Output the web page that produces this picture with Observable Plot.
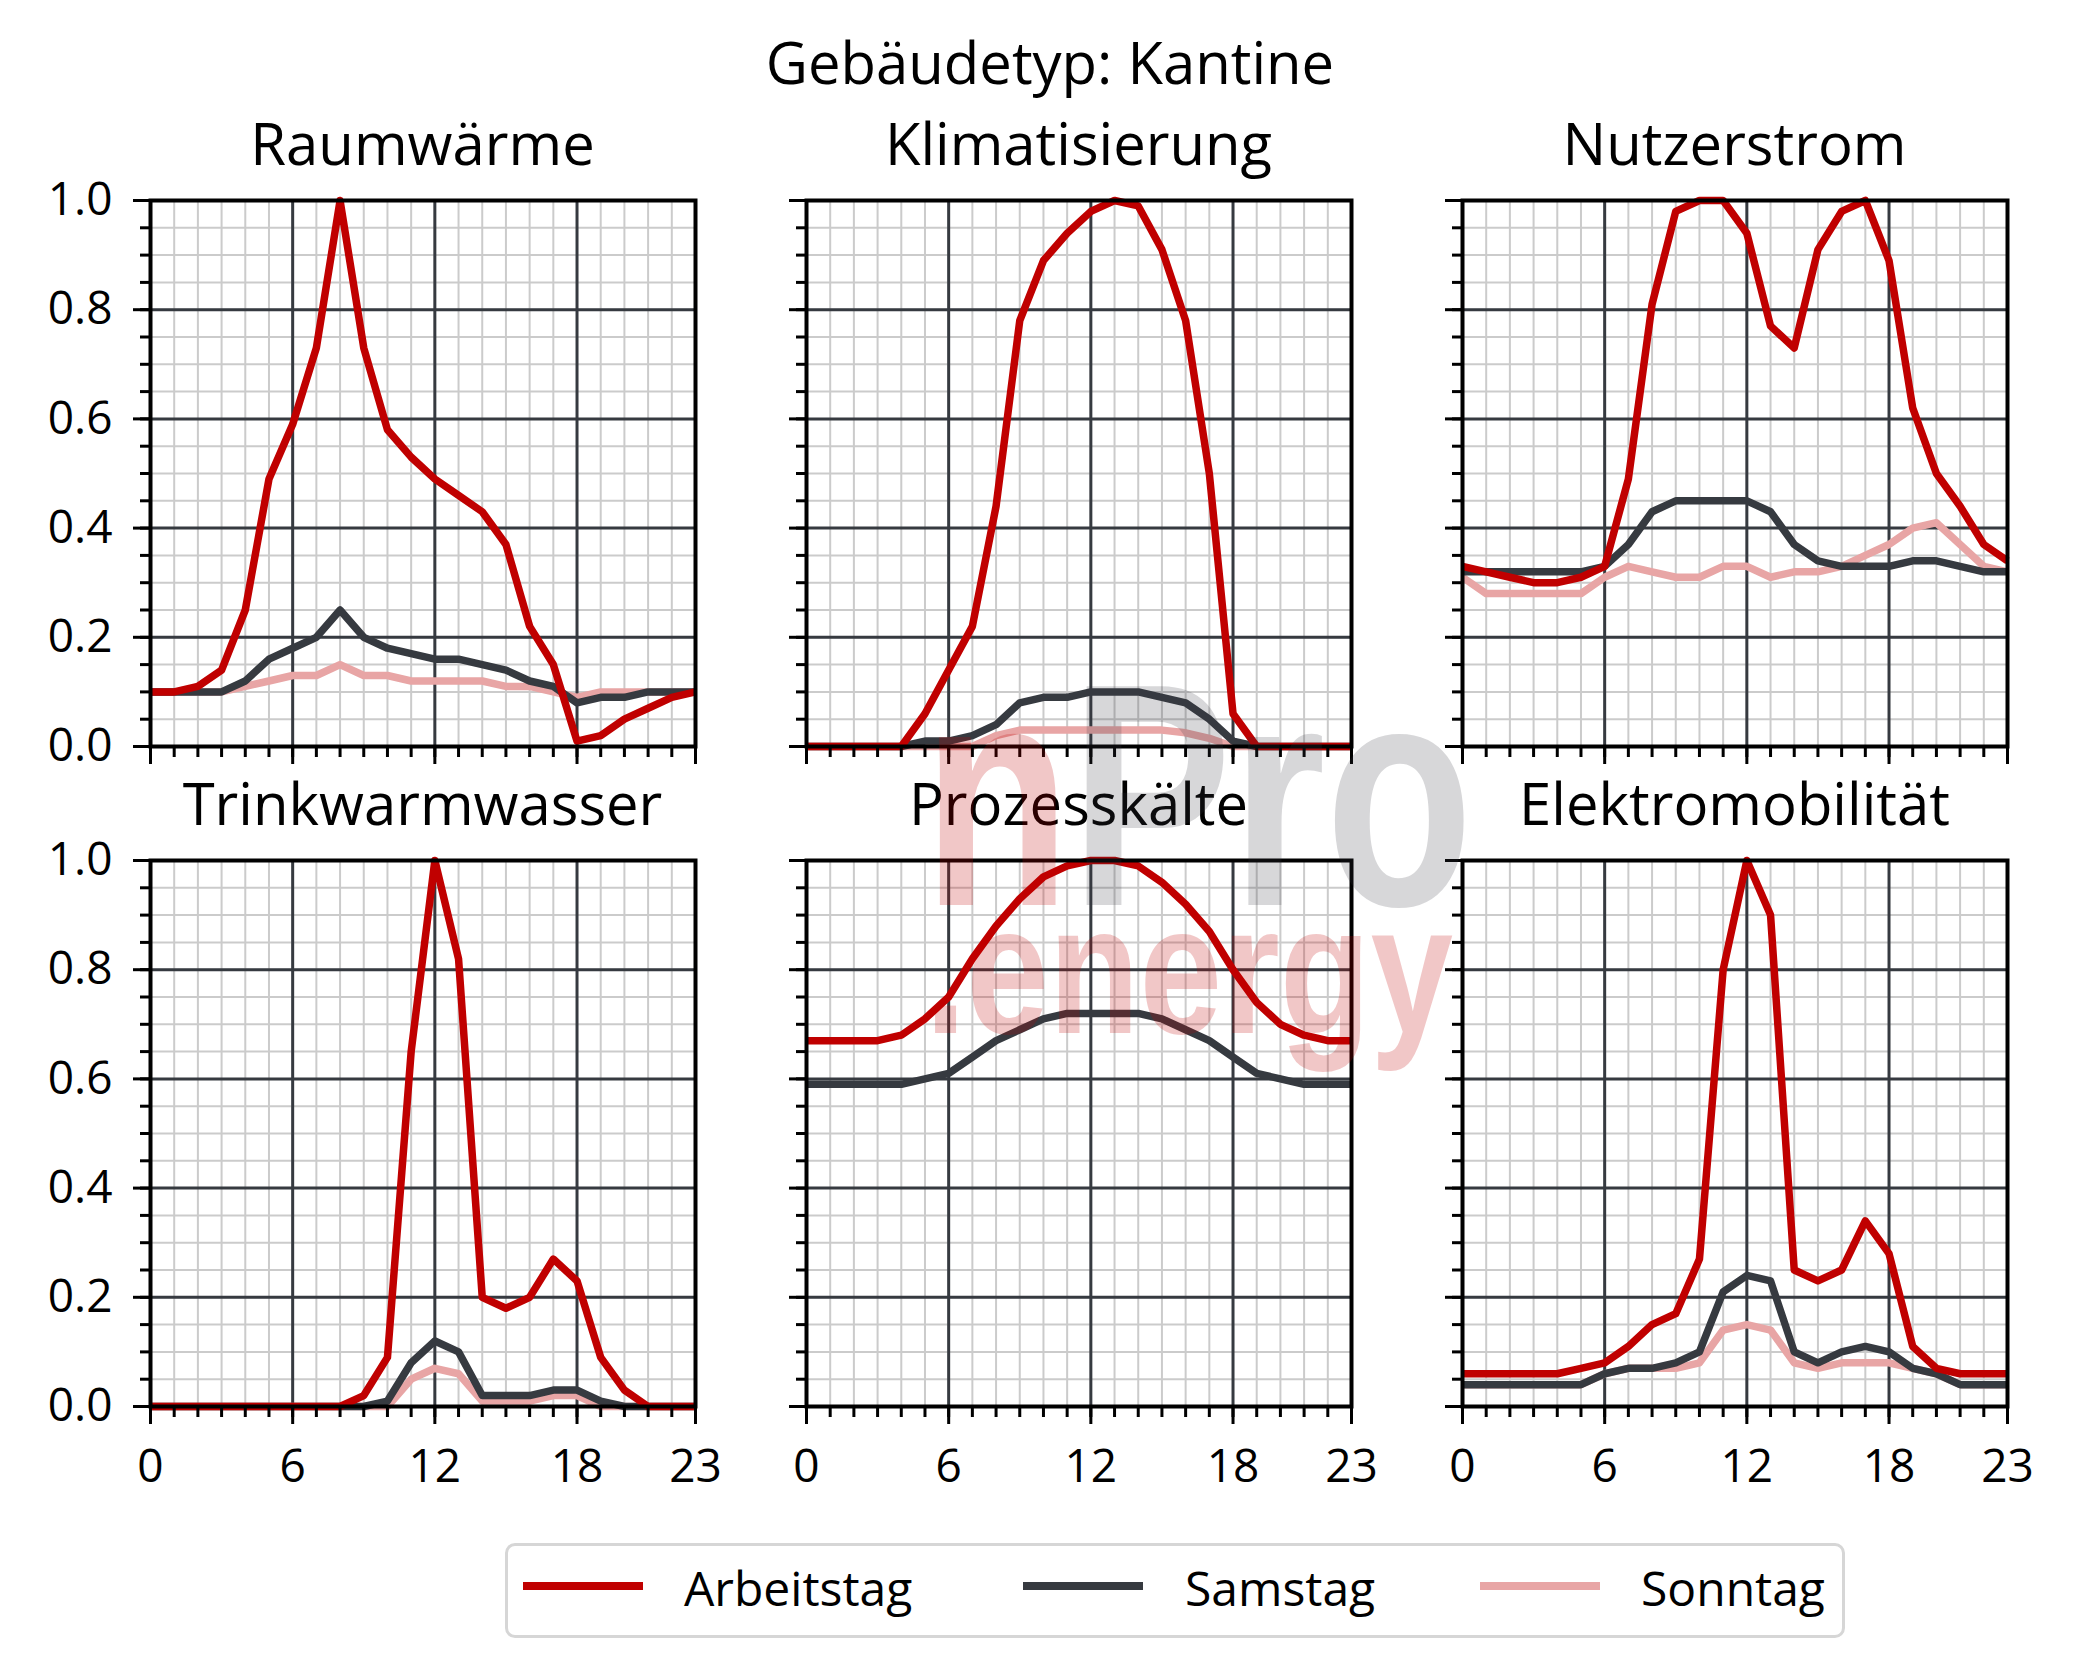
<!DOCTYPE html>
<html><head><meta charset="utf-8">
<script src="https://cdn.jsdelivr.net/npm/d3@7"></script>
<script src="https://cdn.jsdelivr.net/npm/@observablehq/plot@0.6"></script>
<style>
body{margin:0;background:#fff;}
#fig{position:relative;width:2077px;height:1678px;background:#fff;font-family:"Open Sans",sans-serif;overflow:hidden;}
.t{position:absolute;text-align:center;white-space:nowrap;line-height:1;color:#000;}
.p{position:absolute;}
.lg{position:absolute;white-space:nowrap;line-height:1;color:#000;font-size:48px;}
.sw{position:absolute;height:8px;}
</style></head><body><div id="fig"></div>
<script>
// ---------- data ----------
const hours = [0,1,2,3,4,5,6,7,8,9,10,11,12,13,14,15,16,17,18,19,20,21,22,23];
const days = ["Arbeitstag","Samstag","Sonntag"];
const dayColors = ["#c00000","#363a40","#e8a5a5"];
const panelTitles = ["Raumwärme","Klimatisierung","Nutzerstrom","Trinkwarmwasser","Prozesskälte","Elektromobilität"];
const mainTitle = "Gebäudetyp: Kantine";

const raumwaerme_arbeitstag = [0.10,0.10,0.11,0.14,0.25,0.49,0.59,0.73,1.00,0.73,0.58,0.53,0.49,0.46,0.43,0.37,0.22,0.15,0.01,0.02,0.05,0.07,0.09,0.10];
const raumwaerme_samstag    = [0.10,0.10,0.10,0.10,0.12,0.16,0.18,0.20,0.25,0.20,0.18,0.17,0.16,0.16,0.15,0.14,0.12,0.11,0.08,0.09,0.09,0.10,0.10,0.10];
const raumwaerme_sonntag    = [0.10,0.10,0.10,0.10,0.11,0.12,0.13,0.13,0.15,0.13,0.13,0.12,0.12,0.12,0.12,0.11,0.11,0.10,0.09,0.10,0.10,0.10,0.10,0.10];

const klima_arbeitstag = [0,0,0,0,0,0.06,0.14,0.22,0.44,0.78,0.89,0.94,0.98,1.00,0.99,0.91,0.78,0.50,0.06,0,0,0,0,0];
const klima_samstag    = [0,0,0,0,0,0.01,0.01,0.02,0.04,0.08,0.09,0.09,0.10,0.10,0.10,0.09,0.08,0.05,0.01,0,0,0,0,0];
const klima_sonntag    = [0,0,0,0,0,0,0,0,0.02,0.03,0.03,0.03,0.03,0.03,0.03,0.03,0.025,0.015,0,0,0,0,0,0];

const nutzer_arbeitstag = [0.33,0.32,0.31,0.30,0.30,0.31,0.33,0.49,0.81,0.98,1.00,1.00,0.94,0.77,0.73,0.91,0.98,1.00,0.89,0.62,0.50,0.44,0.37,0.34];
const nutzer_samstag    = [0.32,0.32,0.32,0.32,0.32,0.32,0.33,0.37,0.43,0.45,0.45,0.45,0.45,0.43,0.37,0.34,0.33,0.33,0.33,0.34,0.34,0.33,0.32,0.32];
const nutzer_sonntag    = [0.31,0.28,0.28,0.28,0.28,0.28,0.31,0.33,0.32,0.31,0.31,0.33,0.33,0.31,0.32,0.32,0.33,0.35,0.37,0.40,0.41,0.37,0.33,0.32];

const trink_arbeitstag = [0,0,0,0,0,0,0,0,0,0.02,0.09,0.65,1.00,0.82,0.20,0.18,0.20,0.27,0.23,0.09,0.03,0,0,0];
const trink_samstag    = [0,0,0,0,0,0,0,0,0,0,0.01,0.08,0.12,0.10,0.02,0.02,0.02,0.03,0.03,0.01,0,0,0,0];
const trink_sonntag    = [0,0,0,0,0,0,0,0,0,0,0,0.05,0.07,0.06,0.01,0.01,0.01,0.02,0.02,0,0,0,0,0];

const prozess_arbeitstag = [0.67,0.67,0.67,0.67,0.68,0.71,0.75,0.82,0.88,0.93,0.97,0.99,1.00,1.00,0.99,0.96,0.92,0.87,0.80,0.74,0.70,0.68,0.67,0.67];
const prozess_samstag    = [0.59,0.59,0.59,0.59,0.59,0.60,0.61,0.64,0.67,0.69,0.71,0.72,0.72,0.72,0.72,0.71,0.69,0.67,0.64,0.61,0.60,0.59,0.59,0.59];
const prozess_sonntag    = null;

const elektro_arbeitstag = [0.06,0.06,0.06,0.06,0.06,0.07,0.08,0.11,0.15,0.17,0.27,0.80,1.00,0.90,0.25,0.23,0.25,0.34,0.28,0.11,0.07,0.06,0.06,0.06];
const elektro_samstag    = [0.04,0.04,0.04,0.04,0.04,0.04,0.06,0.07,0.07,0.08,0.10,0.21,0.24,0.23,0.10,0.08,0.10,0.11,0.10,0.07,0.06,0.04,0.04,0.04];
const elektro_sonntag    = [0.04,0.04,0.04,0.04,0.04,0.04,0.06,0.07,0.07,0.07,0.08,0.14,0.15,0.14,0.08,0.07,0.08,0.08,0.08,0.07,0.06,0.04,0.04,0.04];

const xMinorTicks = [0,1,2,3,4,5,6,7,8,9,10,11,12,13,14,15,16,17,18,19,20,21,22,23];
const xMajorTicks = [0,6,12,18,23];
const xMajorGrid  = [0,6,12,18];
const yMinorTicks = [0,0.05,0.1,0.15,0.2,0.25,0.3,0.35,0.4,0.45,0.5,0.55,0.6,0.65,0.7,0.75,0.8,0.85,0.9,0.95,1.0];
const yMajorTicks = [0,0.2,0.4,0.6,0.8,1.0];

const panels = [
  [raumwaerme_arbeitstag, raumwaerme_samstag, raumwaerme_sonntag],
  [klima_arbeitstag, klima_samstag, klima_sonntag],
  [nutzer_arbeitstag, nutzer_samstag, nutzer_sonntag],
  [trink_arbeitstag, trink_samstag, trink_sonntag],
  [prozess_arbeitstag, prozess_samstag, prozess_sonntag],
  [elektro_arbeitstag, elektro_samstag, elektro_sonntag]
];

// ---------- layout ----------
const fig = document.getElementById("fig");
const colX = [150, 806, 1462], rowY = [200, 860];
const W = 545, H = 546;
const ML = 140, MR = 40, MT = 12, MB = 100;
const FONT = "Open Sans";

function addText(txt, cls, left, top, width, size) {
  const d = document.createElement("div");
  d.className = cls; d.textContent = txt;
  d.style.left = left + "px"; d.style.top = top + "px";
  if (width != null) d.style.width = width + "px";
  d.style.fontSize = size + "px";
  fig.appendChild(d);
  return d;
}

// main title (baseline ~85)
addText(mainTitle, "t", 1050 - 400, 85 - 0.888 * 58, 800, 58);

panels.forEach((series, i) => {
  const col = i % 3, row = Math.floor(i / 3);
  const showY = col === 0, showX = row === 1;
  const marks = [
    Plot.ruleX(xMinorTicks, {stroke: "#cbcbcb", strokeWidth: 2}),
    Plot.ruleY(yMinorTicks, {stroke: "#cbcbcb", strokeWidth: 2}),
    Plot.ruleX(xMajorGrid, {stroke: "#363a40", strokeWidth: 3}),
    Plot.ruleY(yMajorTicks, {stroke: "#363a40", strokeWidth: 3})
  ];
  for (let k = 2; k >= 0; k--) {
    const vals = series[k];
    if (!vals) continue;
    const data = hours.map((h, j) => ({hour: h, value: vals[j]}));
    marks.push(Plot.line(data, {x: "hour", y: "value", stroke: dayColors[k], strokeWidth: 7.5, strokeLinejoin: "round", strokeLinecap: "butt"}));
  }
  marks.push(Plot.frame({stroke: "#000", strokeWidth: 4}));
  marks.push(Plot.axisX({ticks: xMinorTicks, tickSize: 11, tickFormat: () => "", strokeWidth: 3, label: null}));
  marks.push(Plot.axisX({ticks: xMajorTicks, tickSize: 18, tickPadding: 25, strokeWidth: 3, label: null,
    tickFormat: showX ? (d => String(d)) : (() => ""), fontSize: 46, fill: "#000"}));
  marks.push(Plot.axisY({ticks: yMinorTicks, tickSize: 10, tickFormat: () => "", strokeWidth: 3, label: null}));
  marks.push(Plot.axisY({ticks: yMajorTicks, tickSize: 17, tickPadding: 21, strokeWidth: 3, label: null,
    tickFormat: showY ? d3.format(".1f") : (() => ""), fontSize: 46, fill: "#000"}));

  const chart = Plot.plot({
    width: W + ML + MR, height: H + MT + MB,
    marginLeft: ML, marginRight: MR, marginTop: MT, marginBottom: MB,
    x: {domain: [0, 23], axis: null},
    y: {domain: [0, 1], axis: null},
    style: {background: "transparent", fontFamily: FONT, overflow: "visible", color: "#000"},
    marks
  });
  const wrap = document.createElement("div");
  wrap.className = "p";
  wrap.style.left = (colX[col] - ML) + "px";
  wrap.style.top = (rowY[row] - MT) + "px";
  wrap.appendChild(chart);
  fig.appendChild(wrap);

  const baseline = row === 0 ? 166 : 826;
  addText(panelTitles[i], "t", colX[col] + W / 2 - 300, baseline - 0.888 * 58, 600, 58);
});

// ---------- legend ----------
const lgBox = document.createElement("div");
lgBox.style.cssText = "position:absolute;left:505px;top:1543px;width:1334px;height:89px;border:3px solid #d6d6d6;border-radius:10px;background:#fff;";
fig.appendChild(lgBox);
const swX = [523, 1023, 1480], txX = [684, 1185, 1641];
days.forEach((d, k) => {
  const s = document.createElement("div");
  s.className = "sw";
  s.style.left = swX[k] + "px"; s.style.top = (1586 - 4) + "px"; s.style.width = "120px";
  s.style.background = dayColors[k];
  fig.appendChild(s);
  addText(d, "lg", txX[k], 1607 - 0.888 * 48, null, 48);
});

// ---------- watermark ----------
const ns = "http://www.w3.org/2000/svg";
const wm = document.createElementNS(ns, "svg");
wm.setAttribute("width", 2077); wm.setAttribute("height", 1678);
wm.style.cssText = "position:absolute;left:0;top:0;pointer-events:none;";
wm.innerHTML =
  '<text x="923" y="905" font-family="Liberation Sans, Arial, sans-serif" font-weight="bold" font-size="318" textLength="550" lengthAdjust="spacingAndGlyphs">' +
  '<tspan fill="rgba(192,0,0,0.22)">n</tspan><tspan fill="rgba(54,57,64,0.2)">Pro</tspan></text>' +
  '<text x="925" y="1033" font-family="Liberation Sans, Arial, sans-serif" font-weight="bold" font-size="183" textLength="528" lengthAdjust="spacingAndGlyphs" fill="rgba(192,0,0,0.22)">.energy</text>';
fig.appendChild(wm);
</script></body></html>
